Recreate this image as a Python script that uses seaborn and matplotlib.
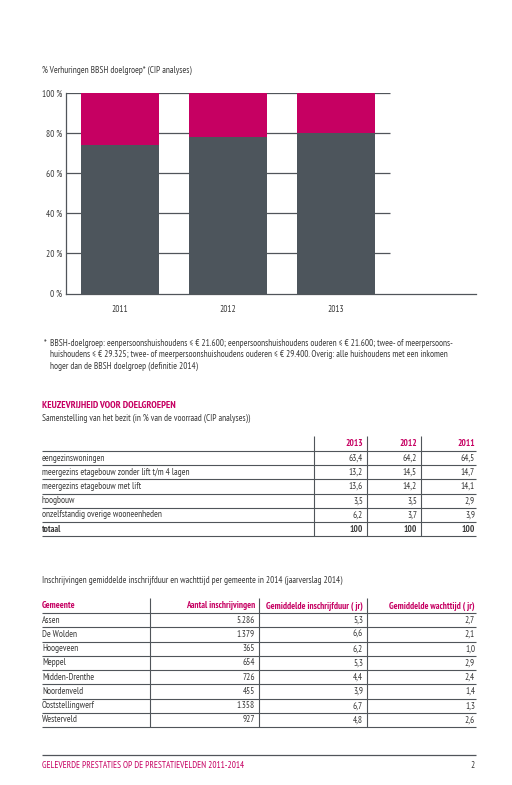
import matplotlib
matplotlib.use('Agg')
import matplotlib.pyplot as plt
import seaborn as sns
from matplotlib.patches import Rectangle

# chart data
years = ['2011', '2012', '2013']
pct_bbsh = [74.0, 78.3, 80.3]
pct_overig = [26.0, 21.7, 19.7]

# table 1: samenstelling bezit
woningtypes = ['eengezinswoningen', 'meergezins etagebouw zonder lift t/m 4 lagen',
               'meergezins etagebouw met lift', 'hoogbouw', 'onzelfstandig overige wooneenheden']
table_years = ['2013', '2012', '2011']
share_2013 = [63.4, 13.2, 13.6, 3.5, 6.2]
share_2012 = [64.2, 14.5, 14.2, 3.5, 3.7]
share_2011 = [64.5, 14.7, 14.1, 2.9, 3.9]
totaal = [100, 100, 100]

# table 2: inschrijvingen per gemeente
gemeenten = ['Assen', 'De Wolden', 'Hoogeveen', 'Meppel', 'Midden-Drenthe',
             'Noordenveld', 'Ooststellingwerf', 'Westerveld']
inschrijvingen = [5286, 1379, 365, 654, 726, 455, 1358, 927]
inschrijfduur = [5.3, 6.6, 6.2, 5.3, 4.4, 3.9, 6.7, 4.8]
wachttijd = [2.7, 2.1, 1.0, 2.9, 2.4, 1.4, 1.3, 2.6]
table2_header = ['Gemeente', 'Aantal inschrijvingen',
                 'Gemiddelde inschrijfduur ( jr)', 'Gemiddelde wachttijd ( jr)']

MAGENTA = '#c60062'
GREY = '#4d555c'
TEXT = '#3a3a3a'
LINE = '#50555a'
FS = 6.7

sns.set_style('white')
plt.rcParams['font.family'] = ['PT Sans Narrow', 'Fira Sans Condensed', 'Asap Condensed', 'DejaVu Sans']
plt.rcParams['text.color'] = TEXT


def nl(v, dec=1):
    return f'{v:.{dec}f}'.replace('.', ',')


def thousands(v):
    return f'{v:,}'.replace(',', '.')


W, H = 512, 785
fig = plt.figure(figsize=(W / 100, H / 100), dpi=100)

# page overlay in pixel coordinates (top-left origin)
page = fig.add_axes([0, 0, 1, 1])
page.set_xlim(0, W)
page.set_ylim(H, 0)
page.axis('off')

# ---- stacked bar chart ----
x0, x1, y_top, y_bot = 66, 476, 93.3, 293.5
slot = 108
ax = fig.add_axes([x0 / W, (H - y_bot) / H, (x1 - x0) / W, (y_bot - y_top) / H])
totals = [b + o for b, o in zip(pct_bbsh, pct_overig)]
sns.barplot(x=years, y=totals, color=MAGENTA, saturation=1, width=0.72, ax=ax)
sns.barplot(x=years, y=pct_bbsh, color=GREY, saturation=1, width=0.72, ax=ax)
for p in ax.patches:
    p.set_linewidth(0)
    p.set_zorder(3)
ax.hlines([20, 40, 60, 80, 100], -0.5, 2.5, color=LINE, lw=0.9, zorder=1)
ax.set_xlim(-0.5, -0.5 + (x1 - x0) / slot)
ax.set_ylim(0, 100)
ax.set_yticks([0, 20, 40, 60, 80, 100])
ax.set_yticklabels([f'{v} %' for v in [0, 20, 40, 60, 80, 100]], fontsize=FS, color=TEXT)
ax.set_xticks([0, 1, 2])
ax.set_xticklabels(years, fontsize=FS, color=TEXT)
ax.set_xticks([0.5, 1.5, 2.5], minor=True)
ax.tick_params(axis='x', which='major', length=0, pad=8)
ax.tick_params(axis='x', which='minor', length=5, direction='in', width=0.9, color=LINE)
ax.tick_params(axis='y', length=0, pad=3)
ax.set_xlabel('')
ax.set_ylabel('')
for side in ['top', 'right']:
    ax.spines[side].set_visible(False)
for side in ['left', 'bottom']:
    ax.spines[side].set_color(LINE)
    ax.spines[side].set_linewidth(0.9)
    ax.spines[side].set_zorder(4)

page.text(42, 70, '% Verhuringen BBSH doelgroep* (CIP analyses)', fontsize=FS, va='center')

# legend
for label, col, yy in [('% Overig', MAGENTA, 186), ('% BBSH', GREY, 207)]:
    page.add_patch(Rectangle((406.5, yy - 4.8), 9.5, 9.5, color=col, lw=0))
    page.text(420.5, yy, label, fontsize=FS, va='center')

# footnote
foot = ['BBSH-doelgroep: eenpersoonshuishoudens ≤ € 21.600; eenpersoonshuishoudens ouderen ≤ € 21.600; twee- of meerpersoons-',
        'huishoudens ≤ € 29.325; twee- of meerpersoonshuishoudens ouderen ≤ € 29.400. Overig: alle huishoudens met een inkomen',
        'hoger dan de BBSH doelgroep (definitie 2014)']
page.text(44, 343.5, '*', fontsize=FS, va='center', style='italic')
for i, line in enumerate(foot):
    page.text(50, 343 + i * 11.5, line, fontsize=FS, va='center', style='italic')

# ---- table 1 ----
page.text(42, 405, 'KEUZEVRIJHEID VOOR DOELGROEPEN', fontsize=7.2, va='center',
          color=MAGENTA, fontweight='bold')
page.text(42, 418, 'Samenstelling van het bezit (in % van de voorraad (CIP analyses))',
          fontsize=FS, va='center')

t1_vlines = [314, 367, 421]
t1_right = [363, 417, 475]
t1_head, rh = 451, 14.2
page.vlines(t1_vlines, 436, t1_head + rh * 6, color=LINE, lw=0.8)
for k in range(7):
    page.hlines(t1_head + rh * k, 42, 476, color=LINE, lw=0.8)
for yr, xr in zip(table_years, t1_right):
    page.text(xr, 443, yr, fontsize=FS, ha='right', va='center', color=MAGENTA, fontweight='bold')
cols1 = [share_2013, share_2012, share_2011]
for i, name in enumerate(woningtypes):
    yy = t1_head + rh * (i + 0.5)
    page.text(42, yy, name, fontsize=FS, va='center')
    for col, xr in zip(cols1, t1_right):
        page.text(xr, yy, nl(col[i]), fontsize=FS, ha='right', va='center')
yy = t1_head + rh * 5.5
page.text(42, yy, 'totaal', fontsize=FS, va='center', fontweight='bold')
for v, xr in zip(totaal, t1_right):
    page.text(xr, yy, str(v), fontsize=FS, ha='right', va='center', fontweight='bold')

# ---- table 2 ----
page.text(42, 580, 'Inschrijvingen gemiddelde inschrijfduur en wachttijd per gemeente in 2014 (jaarverslag 2014)',
          fontsize=FS, va='center')
t2_vlines = [150, 259, 367]
t2_right = [255, 363, 475]
t2_head, rh2 = 613, 14.25
page.vlines(t2_vlines, 598, t2_head + rh2 * 8, color=LINE, lw=0.8)
for k in range(9):
    page.hlines(t2_head + rh2 * k, 42, 476, color=LINE, lw=0.8)
page.text(42, 606, table2_header[0], fontsize=FS, va='center', color=MAGENTA, fontweight='bold')
for h, xr in zip(table2_header[1:], t2_right):
    page.text(xr, 606, h, fontsize=FS, ha='right', va='center', color=MAGENTA, fontweight='bold')
for i, g in enumerate(gemeenten):
    yy = t2_head + rh2 * (i + 0.5)
    page.text(42, yy, g, fontsize=FS, va='center')
    page.text(t2_right[0], yy, thousands(inschrijvingen[i]), fontsize=FS, ha='right', va='center')
    page.text(t2_right[1], yy, nl(inschrijfduur[i]), fontsize=FS, ha='right', va='center')
    page.text(t2_right[2], yy, nl(wachttijd[i]), fontsize=FS, ha='right', va='center')

# ---- footer ----
page.hlines(755, 42, 476, color=LINE, lw=0.9)
page.text(42, 765, 'GELEVERDE PRESTATIES OP DE PRESTATIEVELDEN 2011-2014', fontsize=FS,
          va='center', color=MAGENTA)
page.text(475, 765, '2', fontsize=FS, ha='right', va='center')

fig.savefig('out.png', dpi=100)
